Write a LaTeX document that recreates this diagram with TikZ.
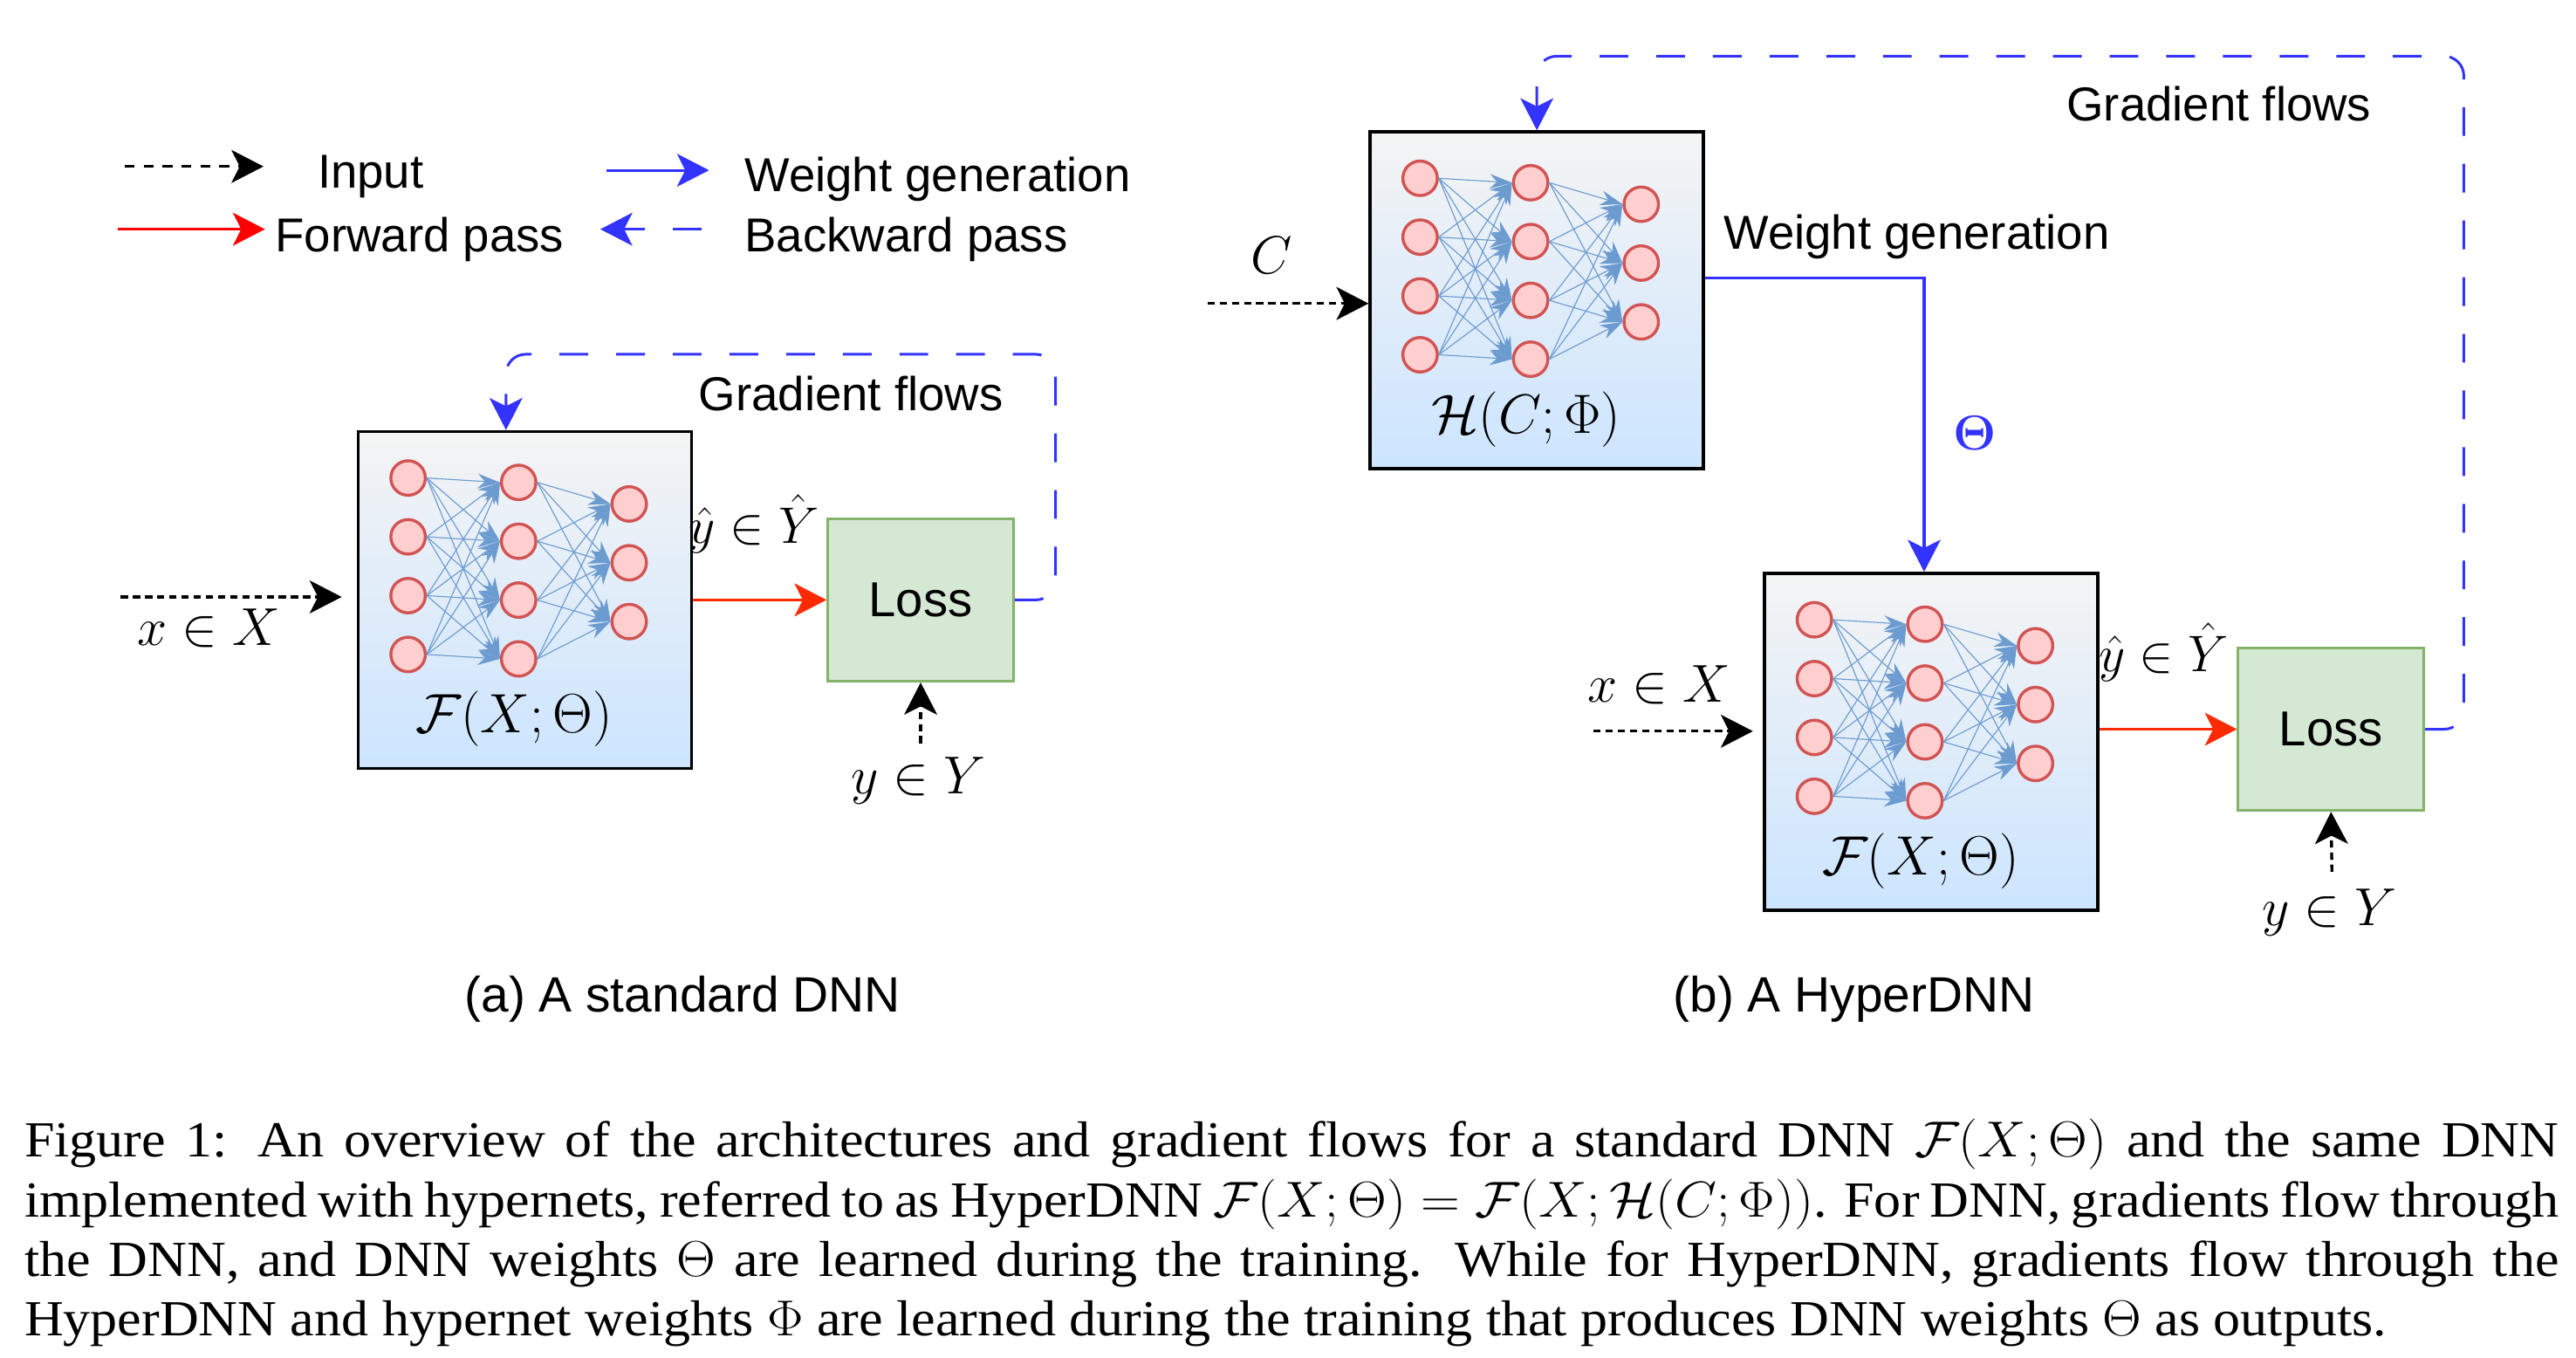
\documentclass[tikz,border=0pt]{standalone}
\usepackage{fix-cm}
\usepackage[no-math]{fontspec}
\setmainfont{Liberation Serif}
\setsansfont{Liberation Sans}
\usetikzlibrary{arrows.meta}

\definecolor{neuronfill}{HTML}{FFCFCF}
\definecolor{neuronline}{HTML}{D25353}
\definecolor{synapse}{HTML}{6C9BD0}
\definecolor{gradblue}{HTML}{3333FF}
\definecolor{fwdred}{HTML}{FF2A00}
\definecolor{legred}{HTML}{FF0000}
\definecolor{lossfill}{HTML}{D5E8D4}
\definecolor{lossline}{HTML}{82B366}
\definecolor{boxtop}{HTML}{F4F4F4}
\definecolor{boxbottom}{HTML}{CCE5FF}

\tikzset{
  lbl/.style={inner sep=0, font=\sffamily\fontsize{16.5}{20}\selectfont},
  sublbl/.style={inner sep=0, font=\sffamily\fontsize{17.2}{20}\selectfont},
  mlbl/.style={inner sep=0, font=\fontsize{18.5}{22}\selectfont},
  boxlbl/.style={inner sep=0, font=\fontsize{19.2}{23}\selectfont},
  net/.style={draw=black, line width=0.04cm, top color=boxtop, bottom color=boxbottom,
    minimum width=4.06cm, minimum height=4.1cm, inner sep=0, anchor=north west},
  neuron/.style={circle, draw=neuronline, fill=neuronfill, line width=0.036cm,
    minimum size=0.42cm, inner sep=0},
  link/.style={draw=synapse, line width=0.012cm, -{Stealth[length=0.27cm,width=0.18cm]}},
  lossbox/.style={draw=lossline, fill=lossfill, line width=0.032cm, minimum width=2.26cm,
    minimum height=1.98cm, inner sep=0, font=\sffamily\fontsize{17}{20}\selectfont},
  bigtip/.style={-{Stealth[length=0.39cm,width=0.4cm,inset=0.1cm]}},
  inarrow/.style={bigtip, draw=black, line width=0.036cm, dash pattern=on 0.088cm off 0.06cm},
  fwdarrow/.style={bigtip, draw=fwdred, line width=0.032cm},
  genarrow/.style={bigtip, draw=gradblue, line width=0.032cm},
  gradarrow/.style={bigtip, draw=gradblue, line width=0.032cm,
    dash pattern=on 0.35cm off 0.34cm, rounded corners=0.24cm},
}

% neurons and links inside a network box
\newcommand{\mlp}[2]{%
  \begin{scope}[shift={(#1.north west)}]
    \foreach \i in {1,...,4} {
      \node[neuron] (#1-a\i) at (31.4,{29.2+35.8*(\i-1)}) {};
      \node[neuron] (#1-b\i) at (98.7,{31.9+35.8*(\i-1)}) {};
    }
    \foreach \i in {1,...,3}
      \node[neuron] (#1-c\i) at (166,{45+35.8*(\i-1)}) {};
    \node[boxlbl] (#1-lbl) at (96,176) {#2};
  \end{scope}
  \foreach \i in {1,...,4} {
    \foreach \j in {1,...,4}
      \draw[link] (#1-a\i.east) -- (#1-b\j.west);
    \foreach \j in {1,...,3}
      \draw[link] (#1-b\i.east) -- (#1-c\j.west);
  }
}

\begin{document}
\begin{tikzpicture}[x=0.02cm, y=-0.02cm]
  \useasboundingbox (0,0) rectangle (1568,826);

  % legend
  \node[lbl, anchor=base west] (lg-in) at (193,114.5) {Input};
  \node[lbl, anchor=base west] (lg-fw) at (167.3,153.2) {Forward pass};
  \node[lbl, anchor=base west] (lg-wg) at (453,116.5) {Weight generation};
  \node[lbl, anchor=base west] (lg-bw) at (453,153.2) {Backward pass};
  \coordinate (k-in1) at (76,101.3);   \coordinate (k-in2) at (160.4,101.3);
  \coordinate (k-fw1) at (71.9,139.5); \coordinate (k-fw2) at (161.3,139.5);
  \coordinate (k-wg1) at (369.4,103.6); \coordinate (k-wg2) at (431.6,103.6);
  \coordinate (k-bw1) at (427,139.5);  \coordinate (k-bw2) at (365.4,139.5);
  \draw[inarrow, dash pattern=on 0.12cm off 0.11cm] (k-in1) -- (k-in2);
  \draw[fwdarrow, draw=legred] (k-fw1) -- (k-fw2);
  \draw[genarrow] (k-wg1) -- (k-wg2);
  \draw[gradarrow] (k-bw1) -- (k-bw2);

  % (a) standard DNN
  \node[net] (Fa) at (217,261.7) {};
  \mlp{Fa}{$\mathcal{F}(X;\Theta)$}
  \node[lossbox] (La) at (560.4,365.1) {Loss};
  \coordinate (xa) at (73.5,363.3);
  \draw[inarrow, shorten >=0.18cm] (xa) -- (xa -| Fa.west);
  \node[mlbl] (xa-lbl) at (127,382.4) {$x\in X$};
  \draw[fwdarrow] (La.west -| Fa.east) -- (La.west);
  \node[mlbl, font=\fontsize{17.8}{22}\selectfont] (ya-hat) at (459,319) {$\hat{y}\in\hat{Y}$};
  \coordinate (ya) at (560.4,452.4);
  \draw[inarrow] (ya) -- (La.south);
  \node[mlbl] (ya-lbl) at (559,475) {$y\in Y$};
  \coordinate (gra) at (642.5,215.6);
  \draw[gradarrow] (La.east) -| (gra) -| ([xshift=-0.23cm]Fa.north);
  \node[lbl, anchor=base] (gfa) at (518,250) {Gradient flows};
  \node[sublbl, anchor=base] (sa) at (415.5,616) {(a) A standard DNN};

  % (b) HyperDNN
  \node[net] (H) at (833,79.3) {};
  \mlp{H}{$\mathcal{H}(C;\Phi)$}
  \node[net] (Fb) at (1073,348) {};
  \mlp{Fb}{$\mathcal{F}(X;\Theta)$}
  \node[lossbox] (Lb) at (1418.9,443.8) {Loss};
  \node[mlbl] (c-lbl) at (774.2,155.4) {$C$};
  \coordinate (cin) at (735,184.7);
  \draw[inarrow] (cin) -- (cin -| H.west);
  \coordinate (gw) at (1171.2,169.4);
  \draw[genarrow] (gw -| H.east) -- (gw) -- (gw |- Fb.north);
  \node[lbl, anchor=base west] (wg-lbl) at (1049,151.4) {Weight generation};
  \node[mlbl, text=gradblue, font=\fontsize{17}{20}\selectfont\boldmath] (theta) at (1202,263.8) {$\Theta$};
  \coordinate (xb) at (970,445);
  \draw[inarrow, shorten >=0.12cm] (xb) -- (xb -| Fb.west);
  \node[mlbl] (xb-lbl) at (1010,417) {$x\in X$};
  \draw[fwdarrow] (Lb.west -| Fb.east) -- (Lb.west);
  \node[mlbl, font=\fontsize{17.8}{22}\selectfont] (yb-hat) at (1317,397) {$\hat{y}\in\hat{Y}$};
  \coordinate (yb) at (1419.4,530.6);
  \draw[inarrow] (yb) -- (Lb.south);
  \node[mlbl] (yb-lbl) at (1418,555.4) {$y\in Y$};
  \coordinate (grb) at (1499.7,34.2);
  \draw[gradarrow] (Lb.east) -| (grb) -| (H.north);
  \node[lbl, anchor=base] (gfb) at (1350.7,73.5) {Gradient flows};
  \node[sublbl, anchor=base] (sb) at (1128.5,616) {(b) A HyperDNN};

  % caption
  \node[anchor=north west, inner sep=0, transform shape, xscale=1.072,
    text width=28.79cm, align=justify,
    font=\fontsize{17.5}{20.66}\selectfont] (cap) at (14.5,680.8)
    {Figure 1: An overview of the architectures and gradient flows for a standard DNN $\mathcal{F}(X;\Theta)$ and the same DNN\linebreak
    implemented with hypernets, referred to as HyperDNN $\mathcal{F}(X;\Theta)=\mathcal{F}(X;\mathcal{H}(C;\Phi))$. For DNN, gradients flow through\linebreak
    the DNN, and DNN weights $\Theta$ are learned during the training. While for HyperDNN, gradients flow through the\linebreak
    HyperDNN and hypernet weights $\Phi$ are learned during the training that produces DNN weights $\Theta$ as outputs.};
\end{tikzpicture}
\end{document}
